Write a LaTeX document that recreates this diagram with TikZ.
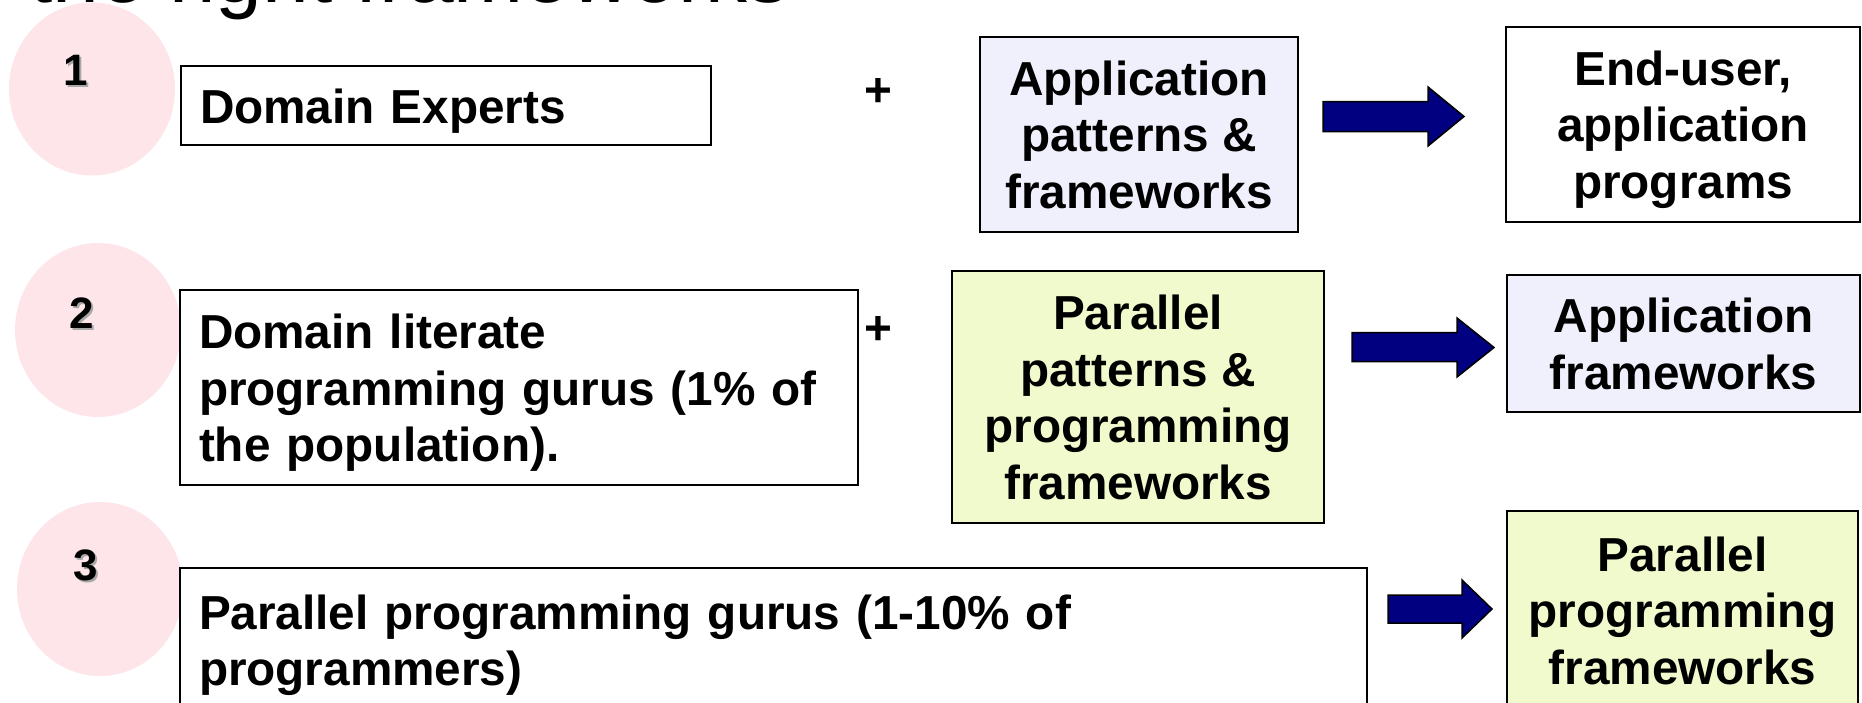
\documentclass[tikz,border=0pt]{standalone}
\usepackage{fontspec}
\setmainfont{Liberation Sans}
\definecolor{circpink}{HTML}{FDE5EA}
\definecolor{lavfill}{HTML}{F0F0FC}
\definecolor{limefill}{HTML}{F0FACC}
\definecolor{arrownavy}{HTML}{000080}
\definecolor{numshadow}{HTML}{A8A8A8}
\newcommand\bodytext{\fontsize{47.7}{56.5}\selectfont\bfseries}
\newcommand\numtext{\fontsize{44}{50}\selectfont\bfseries}
% fixed ascent on the first line and fixed depth on the last line,
% so every text block sits at the same height in its box
\newcommand\topstrut{\rule{0pt}{45pt}}
\newcommand\botstrut{\rule[-10pt]{0pt}{10pt}}
\begin{document}
\begin{tikzpicture}[x=1pt,y=-1pt,
  box/.style={draw=black, line width=2pt, inner ysep=0pt, font=\bodytext},
  leftbox/.style={box, align=left, inner xsep=19pt, fill=white},
  centerbox/.style={box, align=center, inner xsep=4pt},
  lavbox/.style={centerbox, fill=lavfill},
  limebox/.style={centerbox, fill=limefill},
  whitebox/.style={centerbox, fill=white},
  stepcircle/.style={fill=circpink, draw=none},
  blockarrow/.style={fill=arrownavy, draw=black, line width=1.5pt, line join=miter},
  plussign/.style={font=\bodytext, inner sep=0pt},
  stepnum/.style={font=\numtext, inner sep=0pt, anchor=base}
]
\useasboundingbox (0,0) rectangle (1862,703);
\clip (0,0) rectangle (1862,703);
\fill[white] (0,0) rectangle (1862,703);

% heading line, partly above the frame
\node[anchor=base west, inner sep=0pt, font=\fontsize{84}{100}\selectfont] (title) at (29,3) {the right frameworks};

% step markers
\fill[stepcircle] (92,89) ellipse [x radius=83, y radius=86.5];
\fill[stepcircle] (98,330) ellipse [x radius=83, y radius=87];
\fill[stepcircle] (100,589) ellipse [x radius=83, y radius=87];

\node[stepnum, text=numshadow] at (78,88) {1};
\node[stepnum] (n1) at (76,86) {1};
\node[stepnum, text=numshadow] at (84,330) {2};
\node[stepnum] (n2) at (82,328) {2};
\node[stepnum, text=numshadow] at (88,582) {3};
\node[stepnum] (n3) at (86,580) {3};

% row 1
\node[leftbox, text width=492pt, minimum height=79.5pt] (de) at (446,105.75)
  {\topstrut Domain Experts\botstrut};
\node[plussign] (plus1) at (878,93) {+};
\node[lavbox, minimum width=318pt, minimum height=195pt] (ap) at (1139,134.5)
  {\topstrut Application\\patterns \&\\frameworks\botstrut};
\node[whitebox, minimum width=354pt, minimum height=195pt] (eu) at (1683,124.2)
  {\topstrut End-user,\\application\\programs\botstrut};

% row 2
\node[leftbox, text width=640pt, minimum height=195pt] (dl) at (519,387.5)
  {\topstrut Domain literate\\programming gurus (1\% of\\the population).\botstrut};
\node[plussign] (plus2) at (878,331) {+};
\node[limebox, minimum width=372pt, minimum height=252.6pt] (pp) at (1138,397)
  {\topstrut Parallel\\patterns \&\\programming\\frameworks\botstrut};
\node[lavbox, minimum width=353pt, minimum height=137pt] (af) at (1683.5,343.5)
  {\topstrut Application\\frameworks\botstrut};

% row 3
\node[leftbox, text width=1149pt, minimum height=144pt] (pg) at (773.5,640)
  {\topstrut Parallel programming gurus (1-10\% of\\programmers)\botstrut};
\node[limebox, minimum width=351pt, minimum height=198pt] (pf) at (1682.5,610)
  {\topstrut Parallel\\programming\\frameworks\botstrut};

% block arrows between the columns
\draw[blockarrow] (1323,101.7) -- (1428,101.7) -- (1428,87) -- (1464,116.5)
  -- (1428,146) -- (1428,131.7) -- (1323,131.7) -- cycle;
\draw[blockarrow] (1352,332.7) -- (1457,332.7) -- (1457,318) -- (1494,347.5)
  -- (1457,377) -- (1457,361.7) -- (1352,361.7) -- cycle;
\draw[blockarrow] (1388,595) -- (1462,595) -- (1462,580) -- (1492,609)
  -- (1462,638) -- (1462,623) -- (1388,623) -- cycle;
\end{tikzpicture}
\end{document}
